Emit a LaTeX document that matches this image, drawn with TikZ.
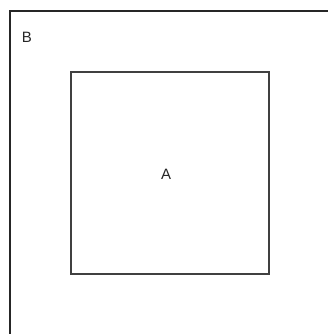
\documentclass[tikz,border=0pt]{standalone}
\usepackage{fontspec}
\setmainfont{Liberation Sans}
\usetikzlibrary{positioning}

\begin{document}
\begin{tikzpicture}[x=1pt, y=-1pt,
  outerbox/.style={draw=black!85, line width=2.2pt, inner sep=0pt,
    minimum width=360pt, minimum height=360pt},
  innerbox/.style={draw=black!75, line width=1.2pt, inner sep=0pt,
    minimum width=198pt, minimum height=202pt},
  tag/.style={font=\fontsize{15}{18}\selectfont, text=black!85, inner sep=0pt}
]
  \useasboundingbox (0,0) rectangle (328,334);
  \clip (0,0) rectangle (328,334);
  % outer region, cut off at the right and bottom
  \node[outerbox, anchor=north west] (b) at (9,10) {};
  \node[tag] (labB) at (27,37) {B};
  % inner region
  \node[innerbox] (a) at (170,173) {};
  \node[tag] (labA) at (166,174) {A};
\end{tikzpicture}
\end{document}
